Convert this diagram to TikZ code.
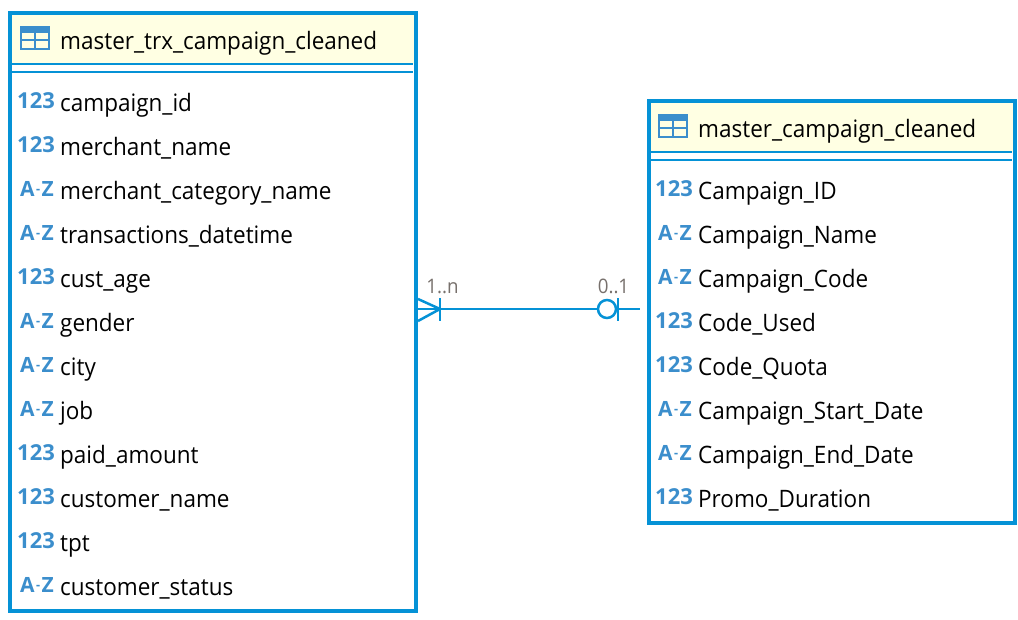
\documentclass[tikz,border=0pt]{standalone}
\usepackage{fontspec}
\setmainfont[FakeStretch=0.937]{Open Sans}
\newfontfamily\iconfont{Open Sans}
\definecolor{erblue}{HTML}{0592D6}
\definecolor{iconblue}{HTML}{3B8ECC}
\definecolor{headfill}{HTML}{FFFFE3}
\definecolor{cardgray}{HTML}{77706C}
\tikzset{
  tablebox/.style={draw=erblue,line width=4pt,rectangle,inner sep=0pt,anchor=north west},
  headband/.style={fill=headfill,draw=none},
  rule/.style={draw=erblue,line width=2.5pt},
  link/.style={draw=erblue,line width=2.5pt},
  field/.style={anchor=base west,inner sep=0pt,font=\fontsize{24}{24}\selectfont,text=black},
  title/.style={field},
  numicon/.style={anchor=base west,inner sep=0pt,font=\iconfont\bfseries\fontsize{22}{22}\selectfont,text=iconblue},
  azicon/.style={anchor=base west,inner sep=0pt,font=\iconfont\bfseries\fontsize{21}{21}\selectfont,text=iconblue},
  card/.style={inner sep=0pt,font=\fontsize{20}{20}\selectfont,text=cardgray},
}
\newcommand{\tblicon}[2]{%
  \fill[iconblue] (#1,#2) rectangle ++(30,7);
  \draw[iconblue,line width=2.5pt] (#1+1,#2+1) rectangle (#1+29,#2+23);
  \draw[iconblue,line width=2.5pt] (#1+1,#2+14) -- (#1+29,#2+14) (#1+15,#2+4) -- (#1+15,#2+23);
}
\newcommand{\fnum}[3]{%
  \node[numicon] at (#1+17,#2+5) {123};
  \node[field] at (#1+60,#2+8.5) {#3};
}
\newcommand{\faz}[3]{%
  \node[azicon] at (#1+20,#2+5) {A\kern1.5pt\raisebox{3pt}{\scalebox{.6}{-}}\kern1.5ptZ};
  \node[field] at (#1+60,#2+8.5) {#3};
}
\begin{document}
\begin{tikzpicture}[x=1pt,y=-1pt]
\useasboundingbox (0,0) rectangle (1018,619);
% left table
\fill[headband] (10,13) rectangle (415,64);
\node[tablebox,minimum width=406pt,minimum height=598pt] (L) at (8,11) {};
\draw[rule] (12,64) -- (413,64) (12,72) -- (413,72);
\tblicon{20}{26}
\node[title] (Lt) at (60,49.5) {master\_trx\_campaign\_cleaned};
\fnum{0}{103}{campaign\_id}
\fnum{0}{147}{merchant\_name}
\faz{0}{191}{merchant\_category\_name}
\faz{0}{235}{transactions\_datetime}
\fnum{0}{279}{cust\_age}
\faz{0}{323}{gender}
\faz{0}{367}{city}
\faz{0}{411}{job}
\fnum{0}{455}{paid\_amount}
\fnum{0}{499}{customer\_name}
\fnum{0}{543}{tpt}
\faz{0}{587}{customer\_status}
% right table
\fill[headband] (649,101) rectangle (1014,152);
\node[tablebox,minimum width=366pt,minimum height=422pt] (R) at (646.5,99) {};
\draw[rule] (651,152) -- (1012,152) (651,160) -- (1012,160);
\tblicon{658}{114}
\node[title] (Rt) at (698,137.5) {master\_campaign\_cleaned};
\fnum{638}{191}{Campaign\_ID}
\faz{638}{235}{Campaign\_Name}
\faz{638}{279}{Campaign\_Code}
\fnum{638}{323}{Code\_Used}
\fnum{638}{367}{Code\_Quota}
\faz{638}{411}{Campaign\_Start\_Date}
\faz{638}{455}{Campaign\_End\_Date}
\fnum{638}{499}{Promo\_Duration}
% connector
\coordinate (start) at (L.east |- 0,309);
\coordinate (free) at (640,309);
\coordinate (tip) at (440,309);
\node[circle,draw=erblue,line width=2.5pt,minimum size=18pt,inner sep=0pt] (opt) at (607,309) {};
\draw[link] (start) -- (opt.west);
\draw[link] (opt.east) -- (free);
\draw[link] (start |- 0,299) -- (tip) -- (start |- 0,321);
\draw[link] (440,298) -- (440,321);
\draw[link] (618,298) -- (618,321);
\node[card] (c1) at (442.5,286) {1..n};
\node[card] (c2) at (613.5,286) {0..1};
\end{tikzpicture}
\end{document}
